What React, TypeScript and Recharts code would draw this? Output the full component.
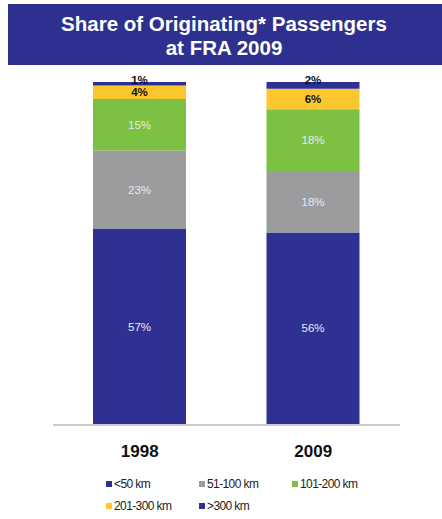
import React from "react";
import { BarChart, Bar, XAxis, YAxis, LabelList, Legend } from "recharts";

const years = ["1998", "2009"];
const seriesNames = ["<50 km", "51-100 km", "101-200 km", "201-300 km", ">300 km"];
const under50 = [57, 56];
const km51to100 = [23, 18];
const km101to200 = [15, 18];
const km201to300 = [4, 6];
const over300 = [1, 2];
const colors = ["#2f3192", "#9b9c9e", "#7dc142", "#fcc62d", "#2f3192"];

const seriesValues = [under50, km51to100, km101to200, km201to300, over300];
const keys = ["s0", "s1", "s2", "s3", "s4"];

const data = years.map((y, i) => {
  const row: any = { year: y, pos: i };
  keys.forEach((k, j) => {
    row[k] = seriesValues[j][i];
  });
  return row;
});

const FONT = "'Liberation Sans', Arial, sans-serif";

const makeLabel = (isTop: boolean) => (props: any) => {
  const { x, y, width, height, value } = props;
  const small = value < 10;
  const cx = x + width / 2;
  const cy = isTop ? y - 2 : y + height / 2;
  return (
    <text
      x={cx}
      y={cy}
      dy="0.35em"
      textAnchor="middle"
      fontFamily={FONT}
      fontSize={11.5}
      fontWeight={small ? "bold" : "normal"}
      fill={small ? "#111" : "#e8e8f0"}
    >
      {value}%
    </text>
  );
};

const YearTick = (props: any) => {
  const { x, y, payload } = props;
  return (
    <text x={x} y={y + 19} dy="0.35em" textAnchor="middle" fontFamily={FONT} fontSize={17} fontWeight="bold" fill="#111">
      {payload.value}
    </text>
  );
};

const LegendContent = () => {
  return (
    <div style={{ position: "relative", width: 442, height: 50, fontFamily: FONT, fontSize: 12, color: "#222" }}>
      {seriesNames.map((name, i) => {
        const col = i % 3;
        const row = Math.floor(i / 3);
        return (
          <div
            key={i}
            style={{ position: "absolute", left: 106 + col * 93, top: 8 + row * 22, display: "flex", alignItems: "center", whiteSpace: "nowrap", letterSpacing: -0.6 }}
          >
            <span style={{ display: "inline-block", width: 6, height: 6, background: colors[i], marginRight: 2 }} />
            <span>{name}</span>
          </div>
        );
      })}
    </div>
  );
};

export default function App() {
  return (
    <div style={{ position: "absolute", left: 0, top: 0, width: 442, height: 519, background: "#fff" }}>
      <div
        style={{
          position: "absolute",
          left: 8,
          top: 4,
          width: 434,
          height: 61,
          background: "#2e3090",
          color: "#fff",
          fontFamily: FONT,
          fontWeight: "bold",
          fontSize: 20.5,
          lineHeight: "24px",
          textAlign: "center",
          paddingTop: 8,
          boxSizing: "border-box",
          paddingRight: 2,
        }}
      >
        <div>Share of Originating* Passengers</div>
        <div>at FRA 2009</div>
      </div>
      <div style={{ position: "absolute", left: 0, top: 0 }}>
        <BarChart width={442} height={519} data={data} margin={{ top: 82, right: 42, bottom: 0, left: 53 }} barSize={93}>
          <XAxis
            xAxisId="cat"
            dataKey="year"
            axisLine={false}
            tickLine={false}
            height={1}
            tick={<YearTick />}
            interval={0}
          />
          <XAxis
            xAxisId="edges"
            type="number"
            dataKey="pos"
            domain={[-0.5, 1.5]}
            ticks={[-0.5, 0.5, 1.5]}
            height={44}
            tick={false}
            tickSize={4}
            axisLine={{ stroke: "#999" }}
            tickLine={{ stroke: "#999" }}
            allowDataOverflow
          />
          <YAxis hide domain={[0, 100]} />
          <Legend verticalAlign="bottom" height={50} wrapperStyle={{ left: 0, width: 442 }} content={<LegendContent />} />
          {keys.map((k, j) => (
            <Bar key={k} xAxisId="cat" dataKey={k} name={seriesNames[j]} stackId="a" fill={colors[j]} isAnimationActive={false}>
              <LabelList dataKey={k} content={makeLabel(j === keys.length - 1)} />
            </Bar>
          ))}
        </BarChart>
      </div>
    </div>
  );
}
